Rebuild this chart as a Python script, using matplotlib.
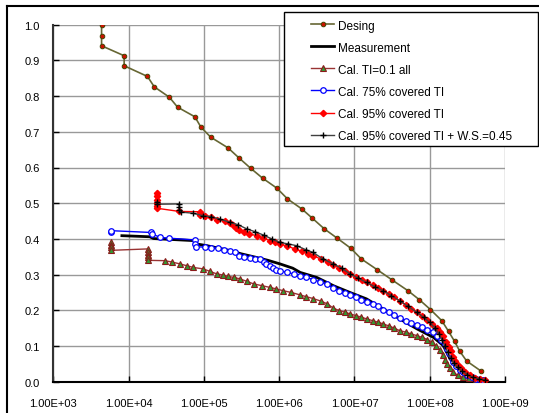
import numpy as np
import matplotlib
matplotlib.use("Agg")
import matplotlib.pyplot as plt
from matplotlib.patches import Rectangle
from matplotlib.lines import Line2D
from matplotlib.ticker import NullLocator, FixedLocator, FixedFormatter

plt.rcParams['font.family'] = ['Liberation Sans', 'DejaVu Sans']

# (log10 of x, y)
desing = [(3.64, 1.000), (3.64, 0.969), (3.64, 0.941), (3.94, 0.913), (3.94, 0.885),
          (4.25, 0.855), (4.34, 0.826), (4.54, 0.797), (4.65, 0.769), (4.88, 0.742),
          (4.96, 0.713), (5.09, 0.685), (5.32, 0.655), (5.47, 0.626), (5.62, 0.598),
          (5.78, 0.570), (5.97, 0.542), (6.11, 0.512), (6.30, 0.484), (6.44, 0.458),
          (6.60, 0.428), (6.77, 0.402), (6.95, 0.374), (7.09, 0.344), (7.30, 0.314),
          (7.50, 0.285), (7.71, 0.255), (7.86, 0.230), (8.01, 0.202), (8.16, 0.171),
          (8.25, 0.141), (8.33, 0.113), (8.40, 0.085), (8.49, 0.058), (8.68, 0.030)]

measurement = [(3.91, 0.409), (4.28, 0.406), (4.33, 0.401), (4.88, 0.395), (4.90, 0.386),
               (5.04, 0.381), (5.20, 0.374), (5.35, 0.367), (5.50, 0.358), (5.70, 0.348),
               (5.85, 0.340), (6.01, 0.330), (6.18, 0.318), (6.28, 0.306), (6.50, 0.292),
               (6.72, 0.269), (6.94, 0.250), (7.16, 0.232), (7.38, 0.204), (7.60, 0.176),
               (7.83, 0.148), (8.05, 0.124), (8.18, 0.101), (8.27, 0.064), (8.40, 0.031),
               (8.58, 0.008), (8.71, 0.005)]

cal_ti01 = [(3.77, 0.392), (3.77, 0.384), (3.77, 0.376), (3.77, 0.368), (4.26, 0.372),
            (4.26, 0.364), (4.26, 0.356), (4.26, 0.348), (4.26, 0.340), (4.48, 0.339),
            (4.58, 0.335), (4.68, 0.330), (4.77, 0.325), (4.86, 0.320), (4.99, 0.316),
            (5.08, 0.309), (5.17, 0.302), (5.25, 0.299), (5.32, 0.295), (5.40, 0.292),
            (5.48, 0.288), (5.57, 0.281), (5.66, 0.274), (5.77, 0.269), (5.88, 0.264),
            (5.96, 0.260), (6.05, 0.255), (6.16, 0.250), (6.28, 0.243), (6.36, 0.238),
            (6.45, 0.233), (6.55, 0.226), (6.64, 0.218), (6.72, 0.206), (6.80, 0.199),
            (6.87, 0.195), (6.94, 0.190), (7.02, 0.185), (7.09, 0.181), (7.16, 0.176),
            (7.24, 0.171), (7.31, 0.167), (7.38, 0.162), (7.46, 0.156), (7.53, 0.150),
            (7.60, 0.143), (7.68, 0.139), (7.75, 0.134), (7.83, 0.129), (7.90, 0.124),
            (7.97, 0.118), (8.03, 0.110), (8.08, 0.100), (8.13, 0.090), (8.17, 0.075),
            (8.20, 0.062), (8.23, 0.050), (8.27, 0.038), (8.31, 0.027), (8.37, 0.018),
            (8.44, 0.012), (8.52, 0.009), (8.62, 0.006)]

cal_75 = [(3.77, 0.418), (3.77, 0.423), (4.30, 0.418), (4.31, 0.414), (4.42, 0.404),
          (4.54, 0.402), (4.88, 0.397), (4.88, 0.386), (4.90, 0.378), (5.01, 0.377),
          (5.10, 0.375), (5.19, 0.374), (5.26, 0.369), (5.34, 0.365), (5.41, 0.362),
          (5.46, 0.351), (5.53, 0.349), (5.61, 0.347), (5.68, 0.345), (5.74, 0.344),
          (5.80, 0.336), (5.83, 0.330), (5.88, 0.324), (5.92, 0.318), (5.96, 0.314),
          (6.01, 0.311), (6.10, 0.306), (6.19, 0.302), (6.28, 0.297), (6.36, 0.292),
          (6.45, 0.286), (6.54, 0.280), (6.63, 0.273), (6.72, 0.262), (6.80, 0.255),
          (6.88, 0.248), (6.94, 0.243), (7.02, 0.236), (7.09, 0.230), (7.16, 0.224),
          (7.24, 0.218), (7.31, 0.211), (7.38, 0.202), (7.46, 0.194), (7.53, 0.187),
          (7.60, 0.179), (7.68, 0.171), (7.75, 0.165), (7.83, 0.158), (7.90, 0.152),
          (7.97, 0.145), (8.05, 0.138), (8.10, 0.129), (8.15, 0.118), (8.20, 0.106),
          (8.23, 0.092), (8.26, 0.079), (8.29, 0.067), (8.31, 0.054), (8.35, 0.043),
          (8.40, 0.032), (8.44, 0.026), (8.50, 0.018), (8.56, 0.012), (8.62, 0.008),
          (8.67, 0.006), (8.71, 0.006)]

cal_95 = [(4.37, 0.529), (4.37, 0.520), (4.37, 0.510), (4.37, 0.500), (4.37, 0.492),
          (4.37, 0.486), (4.67, 0.477), (4.95, 0.476), (4.95, 0.470), (4.95, 0.466),
          (5.02, 0.465), (5.10, 0.460), (5.18, 0.454), (5.28, 0.449), (5.34, 0.444),
          (5.39, 0.438), (5.43, 0.430), (5.46, 0.425), (5.53, 0.420), (5.60, 0.414),
          (5.70, 0.409), (5.79, 0.402), (5.88, 0.395), (5.95, 0.390), (6.01, 0.386),
          (6.10, 0.380), (6.21, 0.372), (6.30, 0.365), (6.38, 0.358), (6.45, 0.353),
          (6.55, 0.344), (6.65, 0.334), (6.72, 0.328), (6.80, 0.318), (6.87, 0.310),
          (6.94, 0.302), (7.02, 0.294), (7.10, 0.285), (7.16, 0.278), (7.24, 0.270),
          (7.31, 0.262), (7.38, 0.255), (7.46, 0.246), (7.53, 0.237), (7.60, 0.227),
          (7.68, 0.216), (7.75, 0.205), (7.83, 0.194), (7.90, 0.184), (7.97, 0.174),
          (8.03, 0.163), (8.09, 0.150), (8.14, 0.140), (8.18, 0.129), (8.22, 0.112),
          (8.25, 0.098), (8.28, 0.085), (8.31, 0.070), (8.34, 0.058), (8.37, 0.048),
          (8.42, 0.038), (8.47, 0.028), (8.53, 0.018), (8.60, 0.011), (8.67, 0.008),
          (8.73, 0.006)]

cal_95_ws = [(4.37, 0.503), (4.37, 0.497), (4.67, 0.498), (4.67, 0.490), (4.67, 0.482),
             (4.70, 0.475), (4.85, 0.472), (4.99, 0.465), (5.10, 0.462), (5.22, 0.455),
             (5.35, 0.446), (5.45, 0.440), (5.57, 0.428), (5.68, 0.420), (5.80, 0.410),
             (5.90, 0.400), (6.01, 0.390), (6.12, 0.386), (6.23, 0.381), (6.35, 0.370),
             (6.45, 0.362), (6.58, 0.344), (6.72, 0.330), (6.83, 0.318), (6.94, 0.302),
             (7.05, 0.290), (7.16, 0.278), (7.27, 0.266), (7.38, 0.255), (7.49, 0.241),
             (7.60, 0.227), (7.71, 0.211), (7.83, 0.194), (7.92, 0.180), (8.00, 0.166),
             (8.07, 0.150), (8.12, 0.135), (8.16, 0.118), (8.20, 0.100), (8.24, 0.082),
             (8.28, 0.066), (8.32, 0.052), (8.37, 0.040), (8.43, 0.030), (8.50, 0.020),
             (8.58, 0.012), (8.66, 0.008), (8.73, 0.005)]

labels = ['Desing', 'Measurement', 'Cal. TI=0.1 all', 'Cal. 75% covered TI',
          'Cal. 95% covered TI', 'Cal. 95% covered TI + W.S.=0.45']
x_ticks = [1e3, 1e4, 1e5, 1e6, 1e7, 1e8, 1e9]
x_tick_labels = ['1.00E+03', '1.00E+04', '1.00E+05', '1.00E+06', '1.00E+07', '1.00E+08', '1.00E+09']
y_ticks = [0.0, 0.1, 0.2, 0.3, 0.4, 0.5, 0.6, 0.7, 0.8, 0.9, 1.0]


def xy(pts):
    a = np.array(pts)
    return 10 ** a[:, 0], a[:, 1]


W, H = 539, 414
fig = plt.figure(figsize=(W / 100, H / 100), dpi=100)
ax = fig.add_axes([53.4 / W, 1 - 382.7 / H, (505 - 53.4) / W, (382.7 - 25.7) / H])

x, y = xy(desing)
ax.plot(x, y, color='#666633', lw=1.2, marker='o', ms=3.3, mfc='#cc1100', mec='#444400',
        mew=0.7, label=labels[0], zorder=3)
x, y = xy(measurement)
ax.plot(x, y, color='black', lw=2.0, label=labels[1], zorder=3)
x, y = xy(cal_ti01)
ax.plot(x, y, color='#993333', lw=1.0, marker='^', ms=4, mfc='#339933', mec='#8b1a1a',
        mew=0.8, label=labels[2], zorder=3)
x, y = xy(cal_75)
ax.plot(x, y, color='#0000ff', lw=1.0, marker='o', ms=4, mfc='white', mec='#0000ff',
        mew=0.9, label=labels[3], zorder=4)
x, y = xy(cal_95)
ax.plot(x, y, color='#ff0000', lw=1.0, marker='D', ms=3.2, mfc='#ff0000', mec='#ff0000',
        label=labels[4], zorder=4)
x, y = xy(cal_95_ws)
ax.plot(x, y, color='#404040', lw=1.0, marker='+', ms=5, mec='black', mew=1.0,
        label=labels[5], zorder=5)

ax.set_xscale('log')
ax.set_xlim(1e3, 1e9)
ax.set_ylim(0, 1)
ax.xaxis.set_major_locator(FixedLocator(x_ticks))
ax.xaxis.set_major_formatter(FixedFormatter(x_tick_labels))
ax.xaxis.set_minor_locator(NullLocator())
ax.set_yticks(y_ticks)
ax.set_yticklabels(['%.1f' % v for v in y_ticks])
ax.grid(True, color='#999999', lw=1.0)
ax.set_axisbelow(True)
ax.tick_params(direction='in', length=4, width=1, labelsize=8, colors='black')
ax.tick_params(axis='x', pad=12)
ax.tick_params(axis='y', pad=10)
for s in ['top', 'right']:
    ax.spines[s].set_visible(False)
ax.spines['left'].set_linewidth(1.5)
ax.spines['left'].set_color('#333333')
ax.spines['bottom'].set_linewidth(1.5)

# legend box drawn separately, Excel-style padding
box = Rectangle((284 / W, 1 - 147 / H), (538 - 284) / W, (147 - 13) / H,
                transform=fig.transFigure, facecolor='white', edgecolor='black',
                lw=1.0, zorder=5)
fig.patches.append(box)
handles, _ = ax.get_legend_handles_labels()
leg = fig.legend(handles, labels, loc='upper left', bbox_to_anchor=(311 / W, 1 - 20.5 / H),
                 frameon=False, fontsize=8.5, borderpad=0, borderaxespad=0,
                 handlelength=1.95, handletextpad=0.35, labelspacing=0.85)
leg.set_zorder(6)

# outer frame of the picture
fig.add_artist(Line2D([7 / W, 7 / W], [0, 1 - 7 / H], transform=fig.transFigure,
                      color='black', lw=1.5))
fig.add_artist(Line2D([7 / W, 1], [1 - 7 / H, 1 - 7 / H], transform=fig.transFigure,
                      color='black', lw=1.5))

fig.savefig('out.png', dpi=100)
